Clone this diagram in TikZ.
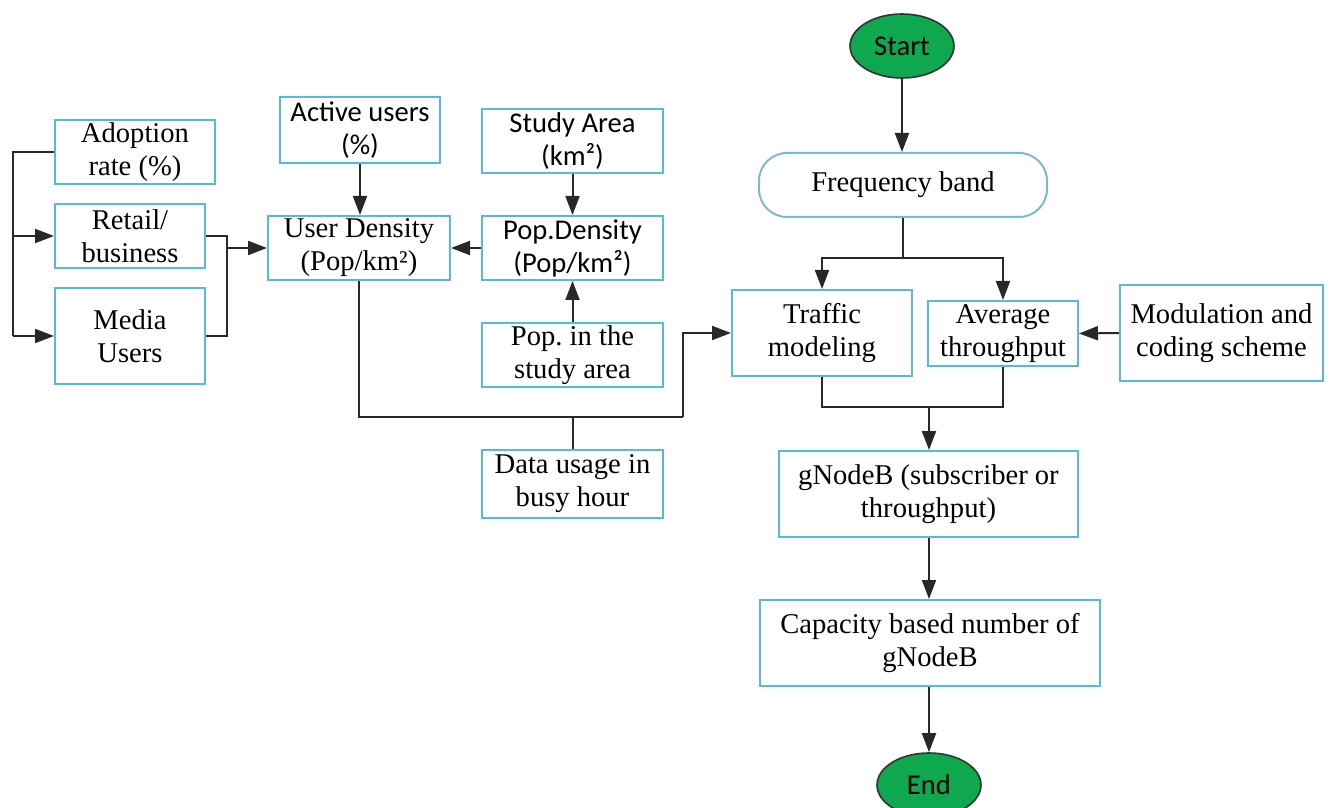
\documentclass[tikz,border=0pt]{standalone}
\usepackage{fontspec}
\setmainfont{Liberation Serif}
\newfontfamily\sansbox{Carlito}
\usetikzlibrary{arrows.meta,shapes.geometric}
\definecolor{boxblue}{RGB}{88,184,222}
\definecolor{bandline}{RGB}{125,185,198}
\definecolor{termgreen}{RGB}{14,168,78}
\definecolor{wire}{RGB}{40,40,40}
\frenchspacing
\begin{document}
\begin{tikzpicture}[x=0.5pt,y=-0.5pt,
  font=\fontsize{14.3pt}{16.5pt}\selectfont,
  box/.style={draw=boxblue,line width=1pt,fill=white,align=center,inner sep=0pt,
              minimum width=#1},
  box/.default=80pt,
  sanstext/.style={font=\sansbox\fontsize{14.3pt}{16.5pt}\selectfont},
  term/.style={ellipse,draw=black!80,line width=0.8pt,fill=termgreen,
               minimum width=52pt,minimum height=32pt,inner sep=0pt,sanstext},
  wire/.style={draw=wire,line width=1pt},
  arr/.style={wire,-{Triangle[length=9.5pt,width=7pt]}}]
\useasboundingbox (0,0) rectangle (1330,808);

% left inputs
\node[box=80pt,minimum height=32pt] (adopt) at (135,152) {Adoption\\rate (\%)};
\node[box=75pt,minimum height=32pt] (retail) at (130,236) {Retail/\\business};
\node[box=75pt,minimum height=48pt] (media) at (130,336) {Media\\Users};

% density column
\node[box=80pt,minimum height=33pt,sanstext] (active) at (360,130) {Active users\\(\%)};
\node[box=91pt,minimum height=32pt] (userd) at (359,248) {User Density\\(Pop/km²)};
\node[box=90.5pt,minimum height=32pt,sanstext] (study) at (572.5,141) {Study Area\\(km²)};
\node[box=90.5pt,minimum height=32pt,sanstext] (popd) at (572.5,248) {Pop.Density\\(Pop/km²)};
\node[box=90.5pt,minimum height=32pt] (popin) at (572.5,355) {Pop. in the\\study area};
\node[box=90.5pt,minimum height=34pt] (data) at (572.5,484) {Data usage in\\busy hour};

% main flow
\node[term] (start) at (902,46) {Start};
\node[draw=bandline,line width=1pt,rounded corners=14pt,minimum width=144pt,minimum height=32pt,inner sep=0pt] (freq) at (903,185) {Frequency band};
\node[box=90pt,minimum height=43pt] (traffic) at (822,333) {Traffic\\modeling};
\node[box=75pt,minimum height=32.5pt] (avg) at (1003,333.5) {Average\\throughput};
\node[box=101.5pt,minimum height=48pt] (mod) at (1221.5,333) {Modulation and\\coding scheme};
\node[box=149.5pt,minimum height=43pt] (gnb) at (928.5,494) {gNodeB (subscriber or\\throughput)};
\node[box=170pt,minimum height=43pt] (cap) at (930,643) {Capacity based number of\\gNodeB};
\node[term] (end) at (929,785) {End};

% junction points
\coordinate (lx) at (13,152);
\coordinate (rj) at (227,236);
\coordinate (bj) at (683,417);
\coordinate (fj) at (903,258);
\coordinate (gj) at (929,407);

% left branch
\draw[wire] (adopt.west) -- (lx) -- (lx |- media.west);
\draw[arr] (lx |- retail.west) -- (retail.west);
\draw[arr] (lx |- media.west) -- (media.west);
\draw[wire] (retail.east) -- (rj) |- (media.east);
\draw[arr] (rj |- userd.west) -- (userd.west);

% density connectors
\draw[arr] (active.south) -- (active.south |- userd.north);
\draw[arr] (study.south) -- (popd.north);
\draw[arr] (popin.north) -- (popd.south);
\draw[arr] (popd.west) -- (userd.east);
\draw[wire] (userd.south) |- (bj);
\draw[arr] (bj) -- (bj |- traffic.west) -- (traffic.west);
\draw[wire] (data.north) -- (data.north |- bj);

% main flow connectors
\draw[arr] (start.south) -- (start.south |- freq.north);
\draw[wire] (freq.south) -- (fj);
\draw[arr] (fj) -| (traffic.north);
\draw[arr] (fj) -| (avg.north);
\draw[arr] (mod.west) -- (avg.east);
\draw[wire] (traffic.south) |- (avg.south |- gj) -- (avg.south);
\draw[arr] (gj) -- (gj |- gnb.north);
\draw[arr] (gnb.south -| gj) -- (gj |- cap.north);
\draw[arr] (cap.south -| gj) -- (gj |- end.north);
\end{tikzpicture}
\end{document}
